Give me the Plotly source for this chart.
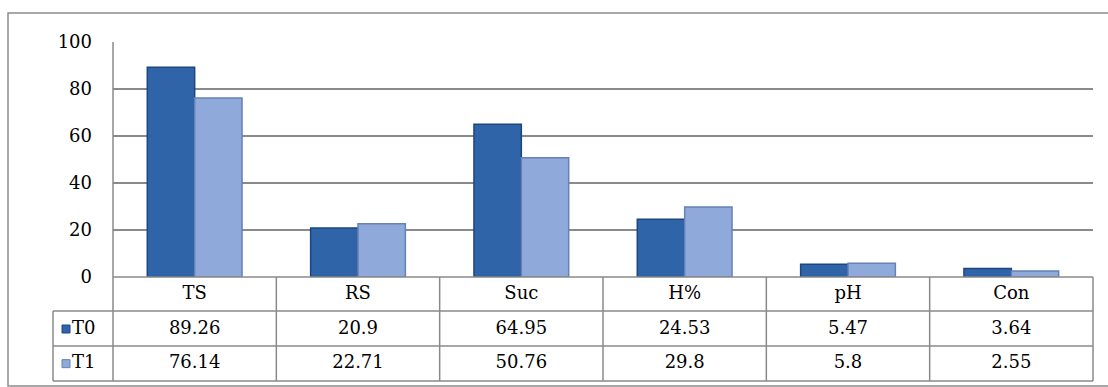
import plotly.graph_objects as go

categories = ["TS", "RS", "Suc", "H%", "pH", "Con"]
t0_values = [89.26, 20.9, 64.95, 24.53, 5.47, 3.64]
t1_values = [76.14, 22.71, 50.76, 29.8, 5.8, 2.55]
series_names = ["T0", "T1"]
t0_labels = ["89.26", "20.9", "64.95", "24.53", "5.47", "3.64"]
t1_labels = ["76.14", "22.71", "50.76", "29.8", "5.8", "2.55"]
y_ticks = [0, 20, 40, 60, 80, 100]

W, H = 1108, 387
def px(x):
    return x / W
def py(y):
    return 1 - y / H

PL, PR, PT, PB = 113, 1093, 42, 277
ROW1, ROW2, ROW3 = 311, 346, 381
LEG_L = 53
FONT = "DejaVu Serif"
FS = 18
GRID = "#8a8a8a"
C0 = "#2f64a8"
C0E = "#1c4680"
C1 = "#8ea9da"
C1E = "#6681b5"
TXT = dict(family=FONT, size=FS, color="black")

fig = go.Figure()
fig.add_trace(go.Bar(x=categories, y=t0_values, name=series_names[0],
                     marker=dict(color=C0, line=dict(color=C0E, width=1.5))))
fig.add_trace(go.Bar(x=categories, y=t1_values, name=series_names[1],
                     marker=dict(color=C1, line=dict(color=C1E, width=1.5))))

n = len(categories)
fig.add_trace(go.Scatter(x=categories, y=[2.5] * n, text=categories, mode="text",
                         textposition="middle center", textfont=TXT,
                         xaxis="x", yaxis="y2", cliponaxis=False, hoverinfo="skip"))
fig.add_trace(go.Scatter(x=categories, y=[1.5] * n, text=t0_labels, mode="text",
                         textposition="middle center", textfont=TXT,
                         xaxis="x", yaxis="y2", cliponaxis=False, hoverinfo="skip"))
fig.add_trace(go.Scatter(x=categories, y=[0.5] * n, text=t1_labels, mode="text",
                         textposition="middle center", textfont=TXT,
                         xaxis="x", yaxis="y2", cliponaxis=False, hoverinfo="skip"))
fig.add_trace(go.Scatter(x=[13, 13], y=[1.5, 0.5], mode="markers+text",
                         text=series_names, textposition="middle right",
                         textfont=TXT,
                         marker=dict(symbol="square", size=8, color=[C0, C1],
                                     line=dict(color=[C0E, C1E], width=1)),
                         xaxis="x2", yaxis="y2", cliponaxis=False, hoverinfo="skip"))

shapes = []
def line(x0, y0, x1, y1, w=1.5, c=GRID):
    shapes.append(dict(type="line", xref="paper", yref="paper",
                       x0=px(x0), y0=py(y0), x1=px(x1), y1=py(y1),
                       line=dict(color=c, width=w)))

shapes.append(dict(type="rect", xref="paper", yref="paper",
                   x0=px(8), y0=py(386), x1=px(1112), y1=py(13),
                   line=dict(color="#8c8c8c", width=1.5)))
line(PL, PT, PL, ROW3)
line(PL, PB, PR, PB)
for yy in (ROW1, ROW2, ROW3):
    line(LEG_L, yy, PR, yy)
line(LEG_L, ROW1, LEG_L, ROW3)
cw = (PR - PL) / n
for k in range(1, n + 1):
    line(PL + k * cw, PB, PL + k * cw, ROW3)

hidden = dict(showticklabels=False, showgrid=False, zeroline=False,
              showline=False, ticks="", automargin=False, fixedrange=True)

fig.update_layout(
    width=W, height=H,
    margin=dict(l=0, r=0, t=0, b=0, pad=0, autoexpand=False),
    paper_bgcolor="white", plot_bgcolor="rgba(0,0,0,0)",
    showlegend=False,
    barmode="group", bargap=0.42, bargroupgap=0,
    font=TXT,
    xaxis=dict(domain=[px(PL), px(PR)], **hidden),
    xaxis2=dict(domain=[px(LEG_L), px(PL)], range=[0, PL - LEG_L],
                anchor="y2", **hidden),
    yaxis=dict(domain=[py(PB), py(PT)], range=[0, 100], tickvals=y_ticks,
               showgrid=True, gridcolor=GRID, gridwidth=1.5, zeroline=False,
               showline=False, ticks="", ticklabelstandoff=20, automargin=False,
               tickfont=TXT),
    yaxis2=dict(domain=[py(ROW3), py(PB)], range=[0, 3], anchor="x", **hidden),
    shapes=shapes,
)

fig.write_html("out.html")
